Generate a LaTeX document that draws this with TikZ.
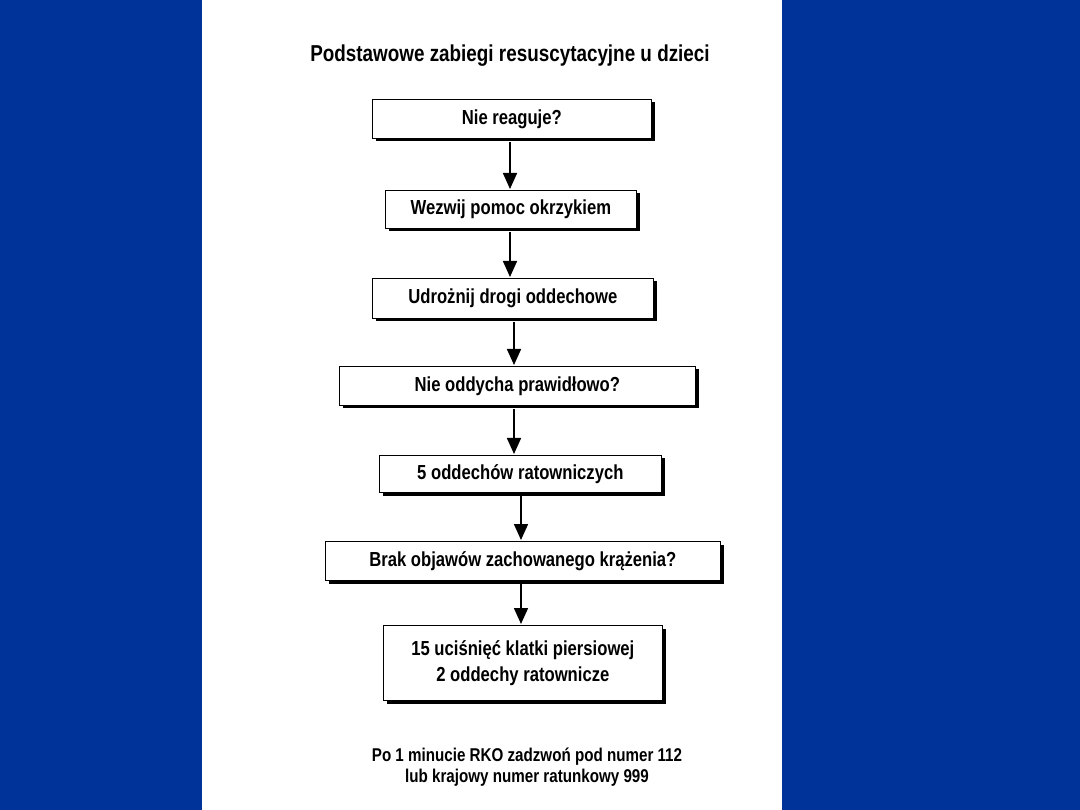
\documentclass[tikz,border=0pt]{standalone}
\usepackage{fontspec}
\setmainfont{Liberation Sans}[FakeStretch=0.82]
\usetikzlibrary{arrows.meta}
\definecolor{bgblue}{HTML}{00339A}
\tikzset{
  stepbox/.style={draw=black, line width=0.7pt, fill=white, font=\fontsize{20.3}{26}\selectfont\bfseries, align=center, inner sep=0pt},
  shadowbox/.style={fill=black},
  arr/.style={line width=1.6pt, -{Triangle[length=16pt,width=14pt]}}
}
\begin{document}
\begin{tikzpicture}[x=1pt,y=-1pt]
\useasboundingbox (0,0) rectangle (1080,810);
\fill[bgblue] (0,0) rectangle (1080,810);
\fill[white] (202,0) rectangle (782,810);
\node[font=\fontsize{23}{26}\selectfont\bfseries] (title) at (510,56) {Podstawowe zabiegi resuscytacyjne u dzieci};
% boxes
\newcommand{\mybox}[6]{%
  \fill[shadowbox] (#2+3.5,#3+3.5) rectangle (#4+3.5,#5+3.5);
  \node[stepbox, minimum width={#4-#2}, minimum height={#5-#3}, anchor=north west] (#1) at (#2,#3) {#6};}
\mybox{b1}{372}{99}{651}{138}{Nie reaguje?}
\mybox{b2}{385}{190}{636}{228}{Wezwij pomoc okrzykiem}
\mybox{b3}{372}{278}{653}{318}{Udrożnij drogi oddechowe}
\mybox{b4}{339}{366}{695}{405}{Nie oddycha prawidłowo?}
\mybox{b5}{379}{455}{661}{492}{5 oddechów ratowniczych}
\mybox{b6}{325}{541}{720}{580}{Brak objawów zachowanego krążenia?}
\mybox{b7}{383}{625}{662}{700}{15 uciśnięć klatki piersiowej\\2 oddechy ratownicze}
% arrows
\coordinate (a1s) at (510,142); \coordinate (a1e) at (510,189);
\coordinate (a2s) at (510,232); \coordinate (a2e) at (510,277);
\coordinate (a3s) at (514,322); \coordinate (a3e) at (514,365);
\coordinate (a4s) at (514,409); \coordinate (a4e) at (514,454);
\coordinate (a5s) at (521,496); \coordinate (a5e) at (521,540);
\coordinate (a6s) at (521,584); \coordinate (a6e) at (521,624);
\draw[arr] (a1s) -- (a1e);
\draw[arr] (a2s) -- (a2e);
\draw[arr] (a3s) -- (a3e);
\draw[arr] (a4s) -- (a4e);
\draw[arr] (a5s) -- (a5e);
\draw[arr] (a6s) -- (a6e);
\node[font=\fontsize{18.5}{21}\selectfont\bfseries, align=center] (note) at (527,767) {Po 1 minucie RKO zadzwoń pod numer 112\\lub krajowy numer ratunkowy 999};
\end{tikzpicture}
\end{document}
